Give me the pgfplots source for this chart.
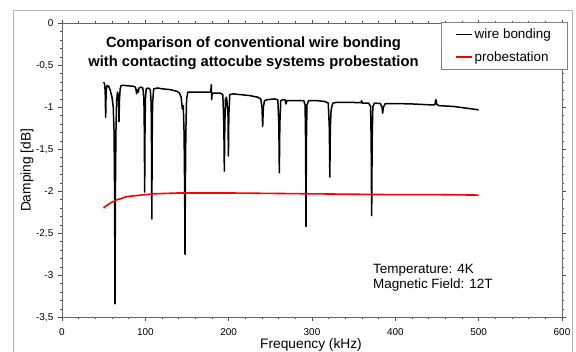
\documentclass[border=0pt]{standalone}
\usepackage{fontspec}
\setmainfont{Liberation Sans}
\usepackage{pgfplots}
\pgfplotsset{compat=1.18}
\begin{document}
\begin{tikzpicture}
\useasboundingbox (0,0) rectangle (576bp,352bp);
\draw[black!30, line width=0.8bp] (13.5bp,-5bp) -- (13.5bp,342bp) -- (572.5bp,342bp) -- (572.5bp,-5bp);
\begin{axis}[
  scale only axis, width=500bp, height=294bp,
  at={(62bp,34.7bp)}, anchor=south west,
  xmin=0, xmax=600, ymin=-3.5, ymax=0,
  xtick={0,100,200,300,400,500,600},
  ytick={-3.5,-3,-2.5,-2,-1.5,-1,-0.5,0},
  minor x tick num=4, minor y tick num=4,
  tick align=outside, major tick length=3.5bp, minor tick length=2bp,
  tick style={black!70, line width=0.6bp},
  axis line style={black!60, line width=0.9bp},
  /pgf/number format/assume math mode=true,
  /pgf/number format/use comma,
  ticklabel style={font=\fontsize{10}{11}\selectfont, inner sep=0pt},
  xticklabel style={anchor=north, yshift=-7.5bp},
  yticklabel style={anchor=east, xshift=-5bp},
  xlabel={Frequency (kHz)},
  ylabel={Damping [dB]},
  every axis x label/.style={at={(axis description cs:0.498,-0.094)}, anchor=center, font=\fontsize{13.8}{16}\selectfont},
  every axis y label/.style={at={(axis description cs:-0.07,0.5)}, rotate=90, anchor=center, font=\fontsize{13.8}{16}\selectfont},
  legend style={at={(0.7574,1.0054)}, anchor=north west,
    draw=black!50, line width=0.7bp, fill=white,
    font=\fontsize{13.5}{16}\selectfont, inner xsep=14bp, inner ysep=5bp,
    row sep=7bp},
  legend cell align=left,
]
\addplot[black, line width=1.5bp, line join=round,
  legend image code/.code={\draw[black, line width=1.6bp] (0bp,0bp) -- (16bp,0bp);}] coordinates {
(50,-0.70) (51,-0.72) (51.8,-0.80) (52.4,-1.12) (53.0,-0.80) (54,-0.74) (56,-0.75)
(58,-0.80) (60,-0.88) (61.5,-1.00) (62.5,-1.30) (63.1,-2.00) (63.6,-3.34) (64.1,-2.00)
(64.7,-1.30) (65.5,-0.95) (66.5,-0.82) (67.5,-0.85) (68.0,-0.95) (68.4,-1.17) (68.9,-0.92)
(69.8,-0.78) (71,-0.74) (75,-0.74) (80,-0.745) (86,-0.75) (88,-0.76) (89,-0.80) (89.6,-0.84)
(90.2,-0.79) (91,-0.80) (91.6,-0.82) (92.4,-0.77) (95,-0.76) (97,-0.77) (98.3,-0.90)
(98.8,-1.30) (99.2,-2.01) (99.6,-1.30) (100.1,-0.90) (101,-0.78) (104,-0.77) (106,-0.79)
(107,-0.95) (107.4,-1.40) (107.8,-2.33) (108.2,-1.40) (108.7,-0.95) (110,-0.78) (115,-0.77)
(120,-0.78) (130,-0.79) (138,-0.81) (141,-0.83) (143,-0.88) (144.4,-1.02) (145.5,-0.98)
(146.5,-1.30) (147.2,-2.00) (147.6,-2.75) (148.0,-2.00) (148.6,-1.30) (149.5,-0.90)
(151,-0.82) (160,-0.82) (170,-0.82) (178.5,-0.82) (179.2,-0.73) (179.6,-0.91) (180.2,-0.83)
(185,-0.83) (190,-0.83) (193,-0.85) (194.2,-1.20) (194.8,-1.76) (195.4,-1.20) (196.2,-0.90)
(197.5,-0.88) (199.2,-1.10) (199.7,-1.58) (200.2,-1.10) (201.3,-0.85) (205,-0.84)
(215,-0.85) (225,-0.86) (235,-0.88) (238.5,-0.90) (240,-1.00) (240.8,-1.23) (241.6,-1.00)
(243,-0.92) (246,-0.91) (255,-0.90) (259,-0.91) (260.2,-1.20) (260.8,-1.78) (261.4,-1.20)
(262.5,-0.92) (265,-0.91) (267.5,-0.91) (268.8,-0.96) (270,-0.92) (280,-0.92) (290,-0.92)
(291.7,-0.97) (292.3,-1.40) (292.8,-2.42) (293.3,-1.40) (294,-0.97) (296,-0.92) (305,-0.92)
(315,-0.93) (319.5,-0.95) (320.8,-1.25) (321.4,-1.83) (322.0,-1.25) (322.8,-1.05)
(323.6,-1.00) (325,-0.95) (330,-0.94) (345,-0.94) (355,-0.945) (359,-0.945) (359.6,-0.92)
(360.2,-0.95) (368,-0.95) (370.3,-0.99) (371.0,-1.40) (371.6,-2.29) (372.2,-1.40)
(373,-0.99) (375,-0.95) (382,-0.955) (384,-1.00) (384.8,-1.07) (385.6,-1.00) (388,-0.955)
(400,-0.955) (420,-0.96) (440,-0.97) (447.5,-0.97) (448.3,-0.92) (448.8,-0.91) (449.5,-0.96)
(452,-0.98) (470,-0.99) (485,-1.01) (500,-1.03)
};
\addlegendentry{wire bonding}
\addplot[red, line width=1.6bp, line join=round,
  legend image code/.code={\draw[red, line width=1.6bp] (0bp,0bp) -- (16bp,0bp);}] coordinates {
(50,-2.20) (52,-2.18) (55,-2.16) (58,-2.14) (62,-2.12) (66,-2.10) (70,-2.09) (75,-2.07)
(80,-2.06) (90,-2.05) (100,-2.04) (110,-2.03) (125,-2.025) (140,-2.02) (160,-2.02)
(180,-2.02) (200,-2.02) (250,-2.025) (300,-2.03) (350,-2.035) (400,-2.04) (450,-2.04)
(500,-2.045)
};
\addlegendentry{probestation}
\end{axis}
\node[font=\bfseries\fontsize{14.8}{17}\selectfont, anchor=base] at (253.5bp,304.3bp) {Comparison of conventional wire bonding};
\node[font=\bfseries\fontsize{14.8}{17}\selectfont, anchor=base] at (253.5bp,285.3bp) {with contacting attocube systems probestation};
\node[font=\fontsize{13.5}{15}\selectfont, anchor=base west, inner sep=0pt] at (373bp,78.7bp) {Temperature: 4K};
\node[font=\fontsize{13.5}{15}\selectfont, anchor=base west, inner sep=0pt] at (373bp,63.7bp) {Magnetic Field: 12T};
\end{tikzpicture}
\end{document}
